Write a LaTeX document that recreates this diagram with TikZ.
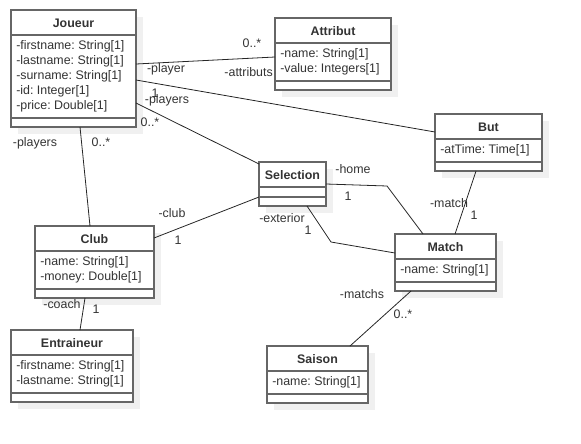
\documentclass[tikz,border=0pt]{standalone}
\usepackage{fontspec}
\setmainfont{Liberation Sans}
\usetikzlibrary{shadows,calc}

\definecolor{umlline}{HTML}{666666}
\definecolor{umltext}{HTML}{333333}

% name, x, y, width, attribute band height, title, attributes (all in px)
\newcommand{\umlclass}[7]{%
  \node[klass, minimum width=#4*0.75pt, minimum height=(34+#5)*0.75pt] (#1) at (#2,#3) {};
  \draw[kline] ($(#1.north west)+(0,25)$) -- ($(#1.north east)+(0,25)$);
  \draw[kline] ($(#1.south west)+(0,-9)$) -- ($(#1.south east)+(0,-9)$);
  \node[ktitle] (#1-title) at ($(#1.north)+(0,13)$) {#6};
  \node[kattr] (#1-attrs) at ($(#1.north west)+(5,29)$) {\begin{tabular}{@{}l@{}}#7\end{tabular}};
}

\begin{document}
\begin{tikzpicture}[
    x=0.75pt, y=-0.75pt,
    klass/.style={draw=umlline, line width=1.5pt, fill=white, outer sep=0pt, inner sep=0pt,
        anchor=north west,
        drop shadow={shadow xshift=5pt, shadow yshift=-5pt, fill=black!6, opacity=1}},
    kline/.style={draw=umlline, line width=1.5pt},
    ktitle/.style={inner sep=0pt, text=umltext, font=\fontsize{9.3}{11.25}\selectfont\bfseries},
    kattr/.style={inner sep=0pt, anchor=north west, text=umltext, font=\fontsize{9.3}{11.25}\selectfont\frenchspacing},
    lbl/.style={inner sep=0pt, text=umltext, font=\fontsize{9.3}{11.25}\selectfont\frenchspacing},
    assoc/.style={draw=black!85, line width=0.6pt}
]
\useasboundingbox (0,0) rectangle (581,443);

\umlclass{joueur}{11}{10}{125}{83}{Joueur}{-firstname: String[1]\\-lastname: String[1]\\-surname: String[1]\\-id: Integer[1]\\-price: Double[1]}
\umlclass{attribut}{275}{18}{116}{38}{Attribut}{-name: String[1]\\-value: Integers[1]}
\umlclass{but}{435}{114}{107}{23}{But}{-atTime: Time[1]}
\umlclass{selection}{259}{162}{67}{10}{Selection}{}
\umlclass{club}{35}{226}{119}{38}{Club}{-name: String[1]\\-money: Double[1]}
\umlclass{entraineur}{11}{330}{122}{38}{Entraineur}{-firstname: String[1]\\-lastname: String[1]}
\umlclass{match}{395}{234}{101}{23}{Match}{-name: String[1]}
\umlclass{saison}{267}{346}{101}{23}{Saison}{-name: String[1]}

% associations
\draw[assoc] ($(joueur.north east)+(0,54)$) -- ($(attribut.north west)+(0,39)$);
\draw[assoc] ($(joueur.north east)+(0,70)$) -- ($(but.north west)+(0,18)$);
\draw[assoc] ($(joueur.north east)+(0,93)$) -- ($(selection.north west)+(0,2)$);
\draw[assoc] ($(joueur.south west)+(69,0)$) -- ($(club.north west)+(55,0)$);
\draw[assoc] ($(selection.north west)+(0,35)$) -- ($(club.north east)+(0,12)$);
\draw[assoc] ($(selection.north east)+(0,22)$) -- ++(61,2) -- ($(match.north west)+(28,0)$);
\draw[assoc] ($(selection.south west)+(48,0)$) -- ++(24,36) -- ($(match.north west)+(0,19)$);
\draw[assoc] ($(but.south west)+(41,0)$) -- ($(match.north west)+(60,0)$);
\draw[assoc] ($(match.south west)+(16,0)$) -- ($(saison.north west)+(83,0)$);
\draw[assoc] ($(club.south west)+(50,0)$) -- ($(entraineur.north west)+(69,0)$);

% roles and multiplicities
\node[lbl] (attr-mult) at (252,43) {0..*};
\node[lbl, anchor=east] (attr-role) at (273,72) {-attributs};
\node[lbl] (player-role) at (166,69) {-player};
\node[lbl] (but-mult) at (155,93) {1};
\node[lbl] (sel-role) at (167,100) {-players};
\node[lbl] (sel-mult) at (150,122) {0..*};
\node[lbl] (club-players) at (35,143) {-players};
\node[lbl] (club-pmult) at (101,142) {0..*};
\node[lbl] (club-role) at (172,213) {-club};
\node[lbl] (club-mult) at (178,240) {1};
\node[lbl] (home-role) at (353,169) {-home};
\node[lbl] (home-mult) at (348,196) {1};
\node[lbl] (ext-role) at (282,218) {-exterior};
\node[lbl] (ext-mult) at (308,230) {1};
\node[lbl] (match-role) at (449,203) {-match};
\node[lbl] (match-mult) at (474,215) {1};
\node[lbl] (matchs-role) at (362,294) {-matchs};
\node[lbl] (matchs-mult) at (403,314) {0..*};
\node[lbl] (coach-role) at (62,304) {-coach};
\node[lbl] (coach-mult) at (96,309) {1};
\end{tikzpicture}
\end{document}
